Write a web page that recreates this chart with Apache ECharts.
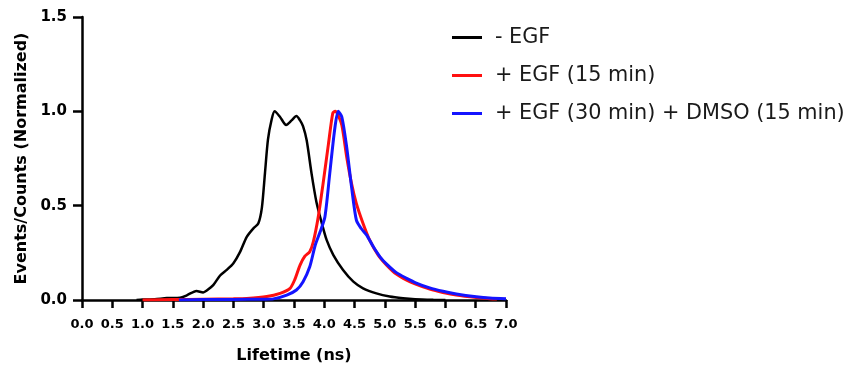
<!DOCTYPE html>
<html>
<head>
<meta charset="utf-8">
<script src="https://cdn.jsdelivr.net/npm/echarts@6/dist/echarts.min.js"></script>
<style>
  html, body { margin: 0; padding: 0; background: #fff; }
  #chart { width: 852px; height: 370px; }
</style>
</head>
<body>
<div id="chart"></div>
<script>
// lifetime (ns), normalized counts
const seriesNames = ['- EGF', '+ EGF (15 min)', '+ EGF (30 min) + DMSO (15 min)']
const seriesColors = ['#000000', '#ff1010', '#1414ff']

const noEgf = [
  [0.9, 0], [1.0, 0.002], [1.2, 0.004], [1.4, 0.01], [1.62, 0.012], [1.73, 0.025],
  [1.89, 0.048], [2.0, 0.04], [2.06, 0.05], [2.17, 0.08], [2.28, 0.13], [2.39, 0.16],
  [2.5, 0.195], [2.61, 0.255], [2.72, 0.335], [2.83, 0.38], [2.91, 0.405], [2.97, 0.49],
  [3.02, 0.67], [3.07, 0.85], [3.13, 0.955], [3.18, 1.0], [3.27, 0.97], [3.37, 0.928],
  [3.46, 0.952], [3.54, 0.975], [3.6, 0.952], [3.65, 0.92], [3.71, 0.845], [3.79, 0.67],
  [3.87, 0.52], [3.96, 0.406], [4.04, 0.317], [4.15, 0.238], [4.31, 0.159], [4.48, 0.097],
  [4.64, 0.062], [4.86, 0.035], [5.08, 0.018], [5.3, 0.009], [5.5, 0.004], [5.8, 0.001], [6.0, 0],
]

const egf15 = [
  [1.0, 0], [1.5, 0.002], [2.0, 0.004], [2.5, 0.006], [2.72, 0.008], [3.05, 0.018],
  [3.27, 0.035], [3.43, 0.06], [3.51, 0.106], [3.6, 0.185], [3.68, 0.232], [3.76, 0.256],
  [3.82, 0.31], [3.9, 0.44], [3.98, 0.617], [4.07, 0.83], [4.14, 0.99], [4.18, 1.0],
  [4.22, 0.985], [4.29, 0.926], [4.37, 0.758], [4.45, 0.617], [4.53, 0.511], [4.64, 0.406],
  [4.75, 0.317], [4.89, 0.238], [5.03, 0.185], [5.19, 0.137], [5.36, 0.105], [5.52, 0.083],
  [5.74, 0.058], [5.96, 0.04], [6.18, 0.026], [6.51, 0.013], [6.73, 0.007], [6.85, 0.005],
]

const egf30Dmso = [
  [1.6, 0], [2.0, 0.002], [2.5, 0.003], [3.0, 0.004], [3.16, 0.006], [3.38, 0.026],
  [3.54, 0.053], [3.65, 0.097], [3.76, 0.176], [3.85, 0.29], [3.93, 0.36], [4.01, 0.44],
  [4.09, 0.67], [4.17, 0.9], [4.23, 1.0], [4.29, 0.97], [4.37, 0.81], [4.45, 0.6],
  [4.53, 0.423], [4.61, 0.379], [4.7, 0.344], [4.81, 0.282], [4.92, 0.229], [5.03, 0.19],
  [5.19, 0.145], [5.36, 0.115], [5.52, 0.09], [5.74, 0.064], [5.96, 0.046], [6.18, 0.032],
  [6.51, 0.017], [6.73, 0.01], [7.0, 0.006],
]

const seriesData = [noEgf, egf15, egf30Dmso]

const chart = echarts.init(document.getElementById('chart'))

const axisText = { fontFamily: 'DejaVu Sans', fontWeight: 'bold', color: '#000' }

chart.setOption({
  animation: false,
  grid: { left: 82, right: 346, top: 17, bottom: 70 },
  legend: {
    orient: 'vertical',
    left: 447,
    top: 22,
    itemGap: 17,
    itemWidth: 30,
    itemHeight: 3,
    icon: 'rect',
    data: seriesNames,
    textStyle: {
      fontFamily: 'DejaVu Sans',
      fontSize: 20.8,
      color: '#1a1a1a',
      padding: [0, 0, 0, 8],
    },
  },
  xAxis: {
    type: 'value',
    min: 0,
    max: 7,
    interval: 0.5,
    name: 'Lifetime (ns)',
    nameLocation: 'middle',
    nameGap: 48,
    nameTextStyle: { ...axisText, fontSize: 16 },
    axisLine: { lineStyle: { color: '#000', width: 2.5 } },
    axisTick: { length: 8, lineStyle: { color: '#000', width: 2.5 } },
    axisLabel: { ...axisText, fontSize: 13, margin: 18, formatter: (v) => v.toFixed(1) },
    splitLine: { show: false },
  },
  yAxis: {
    type: 'value',
    min: 0,
    max: 1.5,
    interval: 0.5,
    name: 'Events/Counts (Normalized)',
    nameLocation: 'middle',
    nameGap: 52,
    nameTextStyle: { ...axisText, fontSize: 16 },
    axisLine: { show: true, lineStyle: { color: '#000', width: 2.5 } },
    axisTick: { show: true, length: 9, lineStyle: { color: '#000', width: 2.5 } },
    axisLabel: { ...axisText, fontSize: 15, margin: 15, formatter: (v) => v.toFixed(1) },
    splitLine: { show: false },
  },
  series: seriesData.map((data, i) => ({
    name: seriesNames[i],
    type: 'line',
    data,
    smooth: 0.25,
    symbol: 'none',
    color: seriesColors[i],
    lineStyle: { width: i === 0 ? 2.5 : 3, color: seriesColors[i] },
  })),
})
</script>
</body>
</html>
